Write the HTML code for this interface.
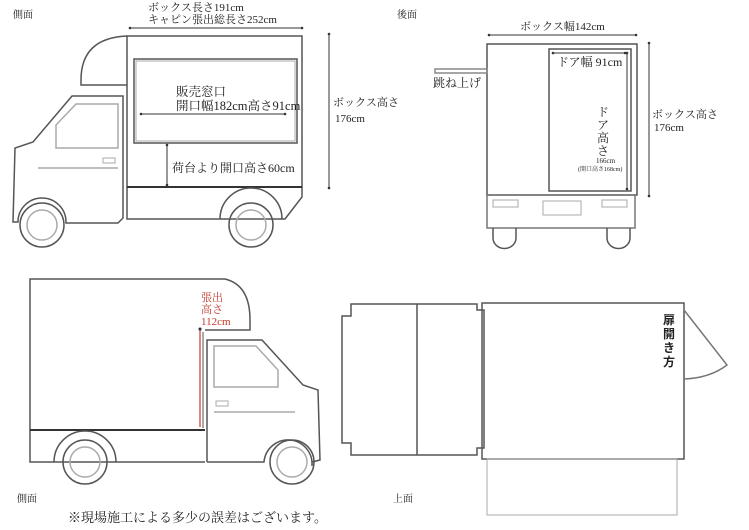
<!DOCTYPE html>
<html><head><meta charset="utf-8"><style>
body{margin:0;background:#fff;width:749px;height:525px;overflow:hidden}
text{font-family:"Liberation Serif","Noto Serif CJK SC",serif;fill:#222}
.s{font-family:"Liberation Sans","Noto Sans CJK JP",sans-serif}
</style></head><body>
<svg width="749" height="525" viewBox="0 0 749 525" xmlns="http://www.w3.org/2000/svg">
<defs><marker id="a" markerWidth="6" markerHeight="6" refX="3" refY="3" orient="auto"><circle cx="3" cy="3" r="1.3" fill="#333"/></marker></defs>
<g fill="none" stroke="#555" stroke-width="1.5">
<path d="M127,36 L302,36 L302,197 L285,219 L127,219 Z"/>
<path d="M127,36 Q81,38 81,80 L81,85 L127,85"/>
<line x1="127" y1="187" x2="302" y2="187" stroke="#333" stroke-width="2"/>
<rect x="134" y="59" width="163" height="84"/>
<rect x="136" y="61" width="159" height="80" stroke="#aaa" stroke-width="1"/>
<path d="M123,96 L72,96 L33,142 L15,148 L13,222 L18,222 A24,24 0 0 1 66,222 L66,223 L118,223 L123,218 Z"/>
<path d="M56,148 L56,125 L76,104 L118,104 L118,148 Z" stroke="#aaa"/>
<line x1="38" y1="168" x2="118" y2="168" stroke="#aaa"/>
<rect x="103" y="158" width="12" height="5" stroke="#aaa" stroke-width="1"/>
<path d="M220,219 A31,31 0 0 1 282,219" />
<circle cx="42" cy="225" r="22"/><circle cx="42" cy="225" r="15" stroke="#aaa"/>
<circle cx="251" cy="225" r="22"/><circle cx="251" cy="225" r="15" stroke="#aaa"/>
<rect x="487" y="44" width="150" height="151"/>
<rect x="549" y="49" width="82" height="142"/>
<rect x="487" y="195" width="148" height="33" stroke="#777"/>
<rect x="493" y="200" width="25" height="7" stroke="#aaa" stroke-width="1"/>
<rect x="543" y="201" width="38" height="14" stroke="#aaa" stroke-width="1"/>
<rect x="602" y="200" width="25" height="7" stroke="#aaa" stroke-width="1"/>
<path d="M493,228 L493,238 A11,10 0 0 0 516,238 L516,228"/>
<path d="M607,228 L607,238 A11,10 0 0 0 630,238 L630,228"/>
<rect x="435" y="69" width="52" height="4" stroke="#888"/>
<path d="M205,462 L30,462 L30,279 L225,279 Q250,285 250,320 L250,330 L205,330"/>
<line x1="30" y1="430" x2="205" y2="430" stroke="#333" stroke-width="2"/>
<path d="M207,462 L207,340 L262,340 L303,385 L318,390 L320,460 L312,462 L312,466 A24,24 0 0 0 264,462 L207,462" />
<path d="M214,346 L256,346 L278,370 L278,387 L214,387 Z" stroke="#aaa"/>
<line x1="214" y1="412" x2="295" y2="412" stroke="#aaa"/>
<rect x="216" y="401" width="12" height="5" stroke="#aaa" stroke-width="1"/>
<path d="M54,462 A31,31 0 0 1 116,462"/>
<circle cx="85" cy="462" r="22"/><circle cx="85" cy="462" r="15" stroke="#aaa"/>
<circle cx="292" cy="462" r="22"/><circle cx="292" cy="462" r="15" stroke="#aaa"/>
<line x1="200" y1="329" x2="200" y2="427" stroke="#c0392b" stroke-width="1.2" marker-start="url(#a)"/>
<line x1="203" y1="332" x2="203" y2="428" stroke="#555" stroke-width="1"/>
<path d="M351,304 L477,304 L477,310 L484,310 L484,448 L477,448 L477,455 L351,455 L351,443 L342,443 L342,316 L351,316 Z"/>
<line x1="417" y1="304" x2="417" y2="455"/>
<rect x="482" y="303" width="202" height="156"/>
<rect x="487" y="459" width="190" height="56" stroke="#aaa" stroke-width="1"/>
<path d="M684,310 L727,365 Q710,378 684,379" stroke="#777"/>
</g>
<g stroke="#333" stroke-width="1" marker-start="url(#a)" marker-end="url(#a)">
<line x1="130" y1="28" x2="302" y2="28"/>
<line x1="141" y1="114" x2="285" y2="114"/>
<line x1="167" y1="145" x2="167" y2="185"/>
<line x1="329" y1="34" x2="329" y2="188"/>
<line x1="489" y1="35" x2="636" y2="35"/>
<line x1="553" y1="53" x2="625" y2="53"/>
<line x1="627" y1="53" x2="627" y2="189"/>
<line x1="649" y1="43" x2="649" y2="196"/>
</g>
<g font-size="11">
<text x="13" y="18" font-size="10" fill="#777">側面</text>
<text x="148" y="11">ボックス長さ191cm</text>
<text x="148" y="23">キャピン張出総長さ252cm</text>
<text x="176" y="96" font-size="12.5">販売窓口</text>
<text x="176" y="110" font-size="12.5">開口幅182cm高さ91cm</text>
<text x="172" y="172" font-size="12">荷台より開口高さ60cm</text>
<text x="333" y="106">ボックス高さ</text>
<text x="335" y="122">176cm</text>
<text x="397" y="18" font-size="10" fill="#777">後面</text>
<text x="520" y="30">ボックス幅142cm</text>
<text x="557" y="66" font-size="12">ドア幅 91cm</text>
<text x="433" y="87" font-size="12">跳ね上げ</text>
<text x="597" y="116" font-size="12">ド</text>
<text x="597" y="129" font-size="12">ア</text>
<text x="597" y="142" font-size="12">高</text>
<text x="597" y="155" font-size="12">さ</text>
<text x="596" y="163" font-size="7">166cm</text>
<text x="578" y="171" font-size="6">(開口高さ168cm)</text>
<text x="652" y="118">ボックス高さ</text>
<text x="654" y="131">176cm</text>
<text x="201" y="301" style="fill:#c0392b">張出</text>
<text x="201" y="313" style="fill:#c0392b">高さ</text>
<text x="201" y="325" style="fill:#c0392b">112cm</text>
<text x="17" y="502" font-size="10" fill="#777">側面</text>
<text x="68" y="522" font-size="13">※現場施工による多少の誤差はございます。</text>
<text x="393" y="502" font-size="10" fill="#777">上面</text>
<text class="s" x="663" y="324" font-size="12" font-weight="bold">扉</text>
<text class="s" x="663" y="338" font-size="12" font-weight="bold">開</text>
<text class="s" x="663" y="352" font-size="12" font-weight="bold">き</text>
<text class="s" x="663" y="366" font-size="12" font-weight="bold">方</text>
</g>
</svg>
</body></html>
